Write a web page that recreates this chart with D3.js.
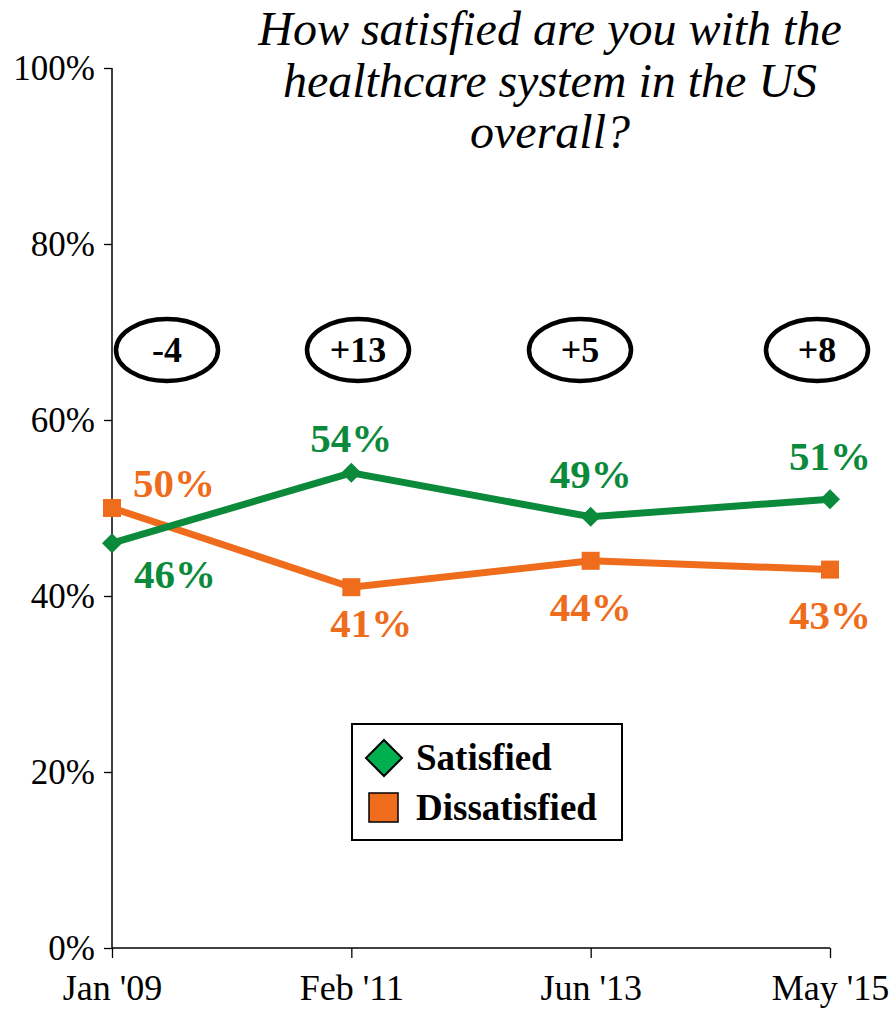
<!DOCTYPE html>
<html><head><meta charset="utf-8">
<script src="https://cdn.jsdelivr.net/npm/d3@7"></script>
<style>body{margin:0;background:#fff}svg{display:block}</style>
</head><body>
<script>
const categories = ["Jan '09", "Feb '11", "Jun '13", "May '15"];
const satisfied = [46, 54, 49, 51];
const dissatisfied = [50, 41, 44, 43];
const netLabels = ["-4", "+13", "+5", "+8"];
const yTicks = [0, 20, 40, 60, 80, 100];
const titleLines = ["How satisfied are you with the", "healthcare system in the US", "overall?"];

const W = 893, H = 1011;
const svg = d3.select("body").append("svg").attr("width", W).attr("height", H);
const font = "'Liberation Serif','Times New Roman',serif";
const green = "#0c8a3c", orange = "#ef6c1c";

const x = d3.scalePoint().domain(categories).range([112, 830]);
const y = d3.scaleLinear().domain([0, 100]).range([948, 68]);

// Y axis
const ya = svg.append("g").attr("transform", "translate(112,0)")
  .call(d3.axisLeft(y).tickValues(yTicks).tickFormat(d => d + "%").tickSize(8).tickPadding(9));
ya.selectAll("text").attr("font-family", font).attr("font-size", 35).attr("fill", "#000");
ya.selectAll("line").attr("stroke", "#000").attr("stroke-width", 1.3);
ya.select(".domain").attr("d", "M0,68V948").attr("stroke", "#000").attr("stroke-width", 1.5);

// X axis
const xa = svg.append("g").attr("transform", "translate(0,948)")
  .call(d3.axisBottom(x).tickSize(10).tickPadding(16));
xa.selectAll("text").attr("font-family", font).attr("font-size", 36).attr("fill", "#000");
xa.selectAll("line").attr("stroke", "#000").attr("stroke-width", 1.3);
xa.select(".domain").attr("d", "M112,0H830").attr("stroke", "#000").attr("stroke-width", 1.5);

// Title
svg.append("text").attr("font-family", font).attr("font-style", "italic").attr("font-size", 48)
  .attr("text-anchor", "middle")
  .selectAll("tspan").data(titleLines).join("tspan")
  .attr("x", 550).attr("y", (d, i) => 45 + i * 51.5).text(d => d);

// Net ellipses
const eg = svg.append("g");
const ellX = [167, 358, 580, 817];
categories.forEach((c, i) => {
  eg.append("ellipse").attr("cx", ellX[i]).attr("cy", 350).attr("rx", 51).attr("ry", 31)
    .attr("fill", "none").attr("stroke", "#000").attr("stroke-width", 4.5);
  eg.append("text").attr("x", ellX[i]).attr("y", 362).attr("text-anchor", "middle")
    .attr("font-family", font).attr("font-weight", "bold").attr("font-size", 36).text(netLabels[i]);
});

// Lines
const line = d3.line().x((d, i) => x(categories[i])).y(d => y(d));
svg.append("path").datum(dissatisfied).attr("d", line).attr("fill", "none").attr("stroke", orange).attr("stroke-width", 7);
svg.append("path").datum(satisfied).attr("d", line).attr("fill", "none").attr("stroke", green).attr("stroke-width", 7);

// Markers
svg.selectAll(".sq").data(dissatisfied).join("rect")
  .attr("x", (d, i) => x(categories[i]) - 9).attr("y", d => y(d) - 9)
  .attr("width", 18).attr("height", 18).attr("fill", orange);
svg.selectAll(".dm").data(satisfied).join("path")
  .attr("d", "M0,-10L10,0L0,10L-10,0Z")
  .attr("transform", (d, i) => `translate(${x(categories[i])},${y(d)})`).attr("fill", green);

// Data labels
const satOff = [[63, 45], [0, -21], [0, -29], [0, -29]];
const disOff = [[62, -11], [20, 50], [0, 60], [0, 59]];
svg.selectAll(".sl").data(satisfied).join("text")
  .attr("x", (d, i) => x(categories[i]) + satOff[i][0]).attr("y", (d, i) => y(d) + satOff[i][1])
  .attr("text-anchor", "middle").attr("font-family", font).attr("font-weight", "bold")
  .attr("font-size", 41).attr("fill", green).text(d => d + "%");
svg.selectAll(".dl").data(dissatisfied).join("text")
  .attr("x", (d, i) => x(categories[i]) + disOff[i][0]).attr("y", (d, i) => y(d) + disOff[i][1])
  .attr("text-anchor", "middle").attr("font-family", font).attr("font-weight", "bold")
  .attr("font-size", 41).attr("fill", orange).text(d => d + "%");

// Legend
const lg = svg.append("g");
lg.append("rect").attr("x", 352).attr("y", 724).attr("width", 270).attr("height", 116)
  .attr("fill", "#fff").attr("stroke", "#000").attr("stroke-width", 2);
lg.append("path").attr("d", "M384,740L402,758L384,776L366,758Z").attr("fill", "#00b050").attr("stroke", "#000").attr("stroke-width", 2);
lg.append("rect").attr("x", 369).attr("y", 793).attr("width", 29).attr("height", 29).attr("fill", orange).attr("stroke", "#000").attr("stroke-width", 1.5);
lg.append("text").attr("x", 416).attr("y", 770).attr("font-family", font).attr("font-weight", "bold").attr("font-size", 37).text("Satisfied");
lg.append("text").attr("x", 416).attr("y", 820).attr("font-family", font).attr("font-weight", "bold").attr("font-size", 37).text("Dissatisfied");
</script>
</body></html>
